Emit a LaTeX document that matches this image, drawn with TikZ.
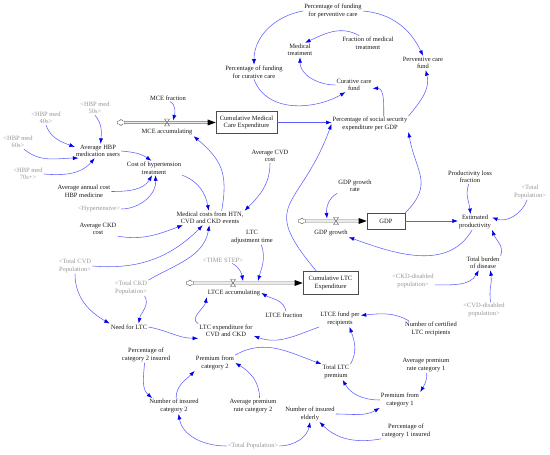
\documentclass[tikz,border=0pt]{standalone}
\usepackage{fontspec}
\setmainfont{Liberation Serif}
\usetikzlibrary{arrows.meta,shapes.symbols}
\definecolor{lnkc}{RGB}{95,95,255}
\definecolor{headc}{RGB}{0,0,235}
\definecolor{shc}{RGB}{150,150,150}
\definecolor{pipec}{RGB}{110,110,110}
\newcommand\valvemark[1]{\draw[draw=black!70, fill=white, line width=0.4pt] ([shift={(-2.5pt,-3.5pt)}]#1) -- ++(5pt,0pt) -- ++(-5pt,7pt) -- ++(5pt,0pt) -- cycle;}
\newcommand\flowtip[1]{\fill[black] (#1.west) -- ++(-8pt,3pt) -- ++(0pt,-6pt) -- cycle;}
\begin{document}
\begin{tikzpicture}[x=1pt,y=1pt,
 v/.style={font=\fontsize{6.5}{7.5}\selectfont, align=center, inner sep=1pt, text=black!90},
 sh/.style={v, text=shc},
 stockbox/.style={v, draw=black!70, line width=0.6pt, minimum width=61pt, minimum height=22pt},
 lnk/.style={draw=lnkc, line width=0.55pt, -{Latex[length=5.5pt,width=4pt,color=headc]}},
 pipe/.style={draw=pipec, line width=0.5pt, double=black!8, double distance=1.6pt, shorten >=7pt},
 cloudn/.style={cloud, cloud puffs=6, draw=black!70, fill=white, line width=0.4pt, minimum width=8pt, minimum height=6pt, inner sep=0pt}]
\useasboundingbox (0,0) rectangle (550,455);
% ---- top cluster
\node[v] (pfpc) at (333,444) {Percentage of funding\\for perventive care};
\node[v] (medtreat) at (300,405) {Medical\\treatment};
\node[v] (fracmed) at (368,412) {Fraction of medical\\treatment};
\node[v] (ppcare) at (423,392) {Perventive care\\fund};
\node[v] (pfcc) at (254,383) {Percentage of funding\\for curative care};
\node[v] (curfund) at (354,370) {Curative care\\fund};
% ---- MCE stock
\node[v] (mcefrac) at (168,357) {MCE fraction};
\node[cloudn] (mcecloud) at (121,332.5) {};
\node[stockbox] (mcebox) at (246.5,332.5) {Cumulative Medical\\Care Expenditure};
\coordinate (mcevalve) at (167,332.5);
\coordinate (mcein) at (173,334.5);
\node[v] (mceacc) at (167,323) {MCE accumulating};
\node[v] (pssgdp) at (370,331) {Percentage of social security\\expenditure per GDP};
% ---- HBP
\node[sh] (hbp50) at (95,347) {<HBP med\\50s>};
\node[sh] (hbp40) at (46,337) {<HBP med\\40s>};
\node[sh] (hbp60) at (18,313) {<HBP med\\60s>};
\node[sh] (hbp70) at (28,281) {<HBP med\\70s+>};
\node[v] (avghbp) at (98,304) {Average HBP\\medication users};
\node[v] (costhtn) at (154,287) {Cost of hypertension\\treatment};
\node[v] (avgannual) at (84,263.5) {Average annual cost\\HBP medicine};
\node[sh] (hyper) at (99,246) {<Hypertensive>};
\node[v] (medcosts) at (210,237) {Medical costs from HTN,\\CVD and CKD events};
\node[v] (avgcvd) at (270,299) {Average CVD\\cost};
\node[v] (avgckd) at (98,226) {Average CKD\\cost};
\node[sh] (totcvd) at (75,189) {<Total CVD\\Population>};
\node[sh] (totckd) at (131,167) {<Total CKD\\Population>};
\node[v] (needltc) at (129,128) {Need for LTC};
% ---- GDP
\node[v] (gdprate) at (355,269) {GDP growth\\rate};
\node[cloudn] (gdpcloud) at (302,234) {};
\node[stockbox, minimum width=38pt, minimum height=16pt] (gdpbox) at (386,234) {GDP};
\coordinate (gdpvalve) at (336,234);
\coordinate (gdpin) at (327,236.5);
\node[v] (gdpgrowth) at (331,222) {GDP growth};
\node[v] (prodloss) at (470,278) {Productivity loss\\fraction};
\node[sh] (totpopR) at (530,263) {<Total\\Population>};
\node[v] (estprod) at (475,233) {Estimated\\productivity};
\node[v] (burden) at (483,192) {Total burden\\of disease};
\node[sh] (ckddis) at (413,174) {<CKD-disabled\\population>};
\node[sh] (cvddis) at (484,145) {<CVD-disabled\\population>};
\node[v] (certltc) at (431,126) {Number of certified\\LTC recipients};
% ---- LTC stock
\node[v] (ltcadj) at (252,218) {LTC\\adjustment time};
\node[sh] (timestep) at (223,195) {<TIME STEP>};
\node[cloudn] (ltccloud) at (190,172) {};
\node[stockbox, minimum width=55pt, minimum height=23pt] (ltcbox) at (330.5,172) {Cumulative LTC\\Expenditure};
\coordinate (ltcvalve) at (233,172);
\coordinate (ltcin1) at (243,174);
\coordinate (ltcin2) at (258,174);
\node[v] (ltcacc) at (234,162) {LTCE accumulating};
\node[v] (ltcefrac) at (284,140) {LTCE fraction};
\node[v] (ltcefund) at (340,136) {LTCE fund per\\recipients};
\node[v] (ltcexp) at (226,124) {LTC expenditure for\\CVD and CKD};
% ---- premiums
\node[v] (pct2) at (146,100) {Percentage of\\category 2 insured};
\node[v] (prem2) at (215,92) {Premium from\\category 2};
\node[v] (totprem) at (336,83) {Total LTC\\premium};
\node[v] (nins2) at (174,49) {Number of insured\\category 2};
\node[v] (avgprem2) at (253,49) {Average premium\\rate category 2};
\node[v] (ninsel) at (310,41) {Number of insured\\elderly};
\node[sh] (totpopB) at (253,9) {<Total Population>};
\node[v] (avgprem1) at (426,90) {Average premium\\rate category 1};
\node[v] (prem1) at (400,55) {Premium from\\category 1};
\node[v] (pct1) at (406,24) {Percentage of\\category 1 insured};
% ---- pipes
\draw[pipe] (mcecloud.east) -- (mcebox.west);
\flowtip{mcebox}
\valvemark{mcevalve}
\draw[pipe] (gdpcloud.east) -- (gdpbox.west);
\flowtip{gdpbox}
\valvemark{gdpvalve}
\draw[pipe] (ltccloud.east) -- (ltcbox.west);
\flowtip{ltcbox}
\valvemark{ltcvalve}
% ---- links
\draw[lnk] (pfpc.west) to[out=190,in=90] (pfcc.north);
\draw[lnk] (pfpc.east) to[out=-5,in=115] (ppcare.north);
\draw[lnk] (fracmed.140) to[out=150,in=25] (medtreat.55);
\draw[lnk] (curfund.west) to[out=180,in=-90] (medtreat.south);
\draw[lnk] (pfcc.south) to[out=-70,in=-150] (curfund.-140);
\draw[lnk] (pssgdp.30) to[out=90,in=0] (curfund.-10);
\draw[lnk] (pssgdp.north east) to[out=50,in=-75] (ppcare.-70);
\draw[lnk] (mcefrac.-60) to[out=-30,in=75] (mcein);
\draw[lnk] (mcebox.east) -- (mcebox.east -| pssgdp.west);
\draw[lnk] (medcosts.32) to[out=80,in=-40,looseness=1.2] (mceacc.south east);
\draw[lnk] (avgcvd.south) to[out=-90,in=45] (medcosts.north east);
\draw[lnk] (costhtn.south east) to[out=-20,in=100] (medcosts.100);
\draw[lnk] (avghbp.east) to[out=-5,in=145] (costhtn.110);
\draw[lnk] (hbp50.south) to[out=-50,in=85] (avghbp.70);
\draw[lnk] (hbp40.south) to[out=-70,in=160] (avghbp.170);
\draw[lnk] (hbp60.-50) to[out=-40,in=180] (avghbp.-160);
\draw[lnk] (hbp70.east) to[out=-5,in=-130] (avghbp.-115);
\draw[lnk] (avgannual.east) to[out=0,in=-120] (costhtn.-105);
\draw[lnk] (hyper.east) to[out=0,in=-85] (costhtn.-80);
\draw[lnk] (avgckd.south east) to[out=-10,in=-160] (medcosts.-165);
\draw[lnk] (totcvd.east) to[out=-5,in=-135] (medcosts.-135);
\draw[lnk] (totckd.north east) to[out=30,in=-100] (medcosts.-95);
\draw[lnk] (totcvd.south) to[out=-90,in=150] (needltc.170);
\draw[lnk] (totckd.-30) to[out=-60,in=80] (needltc.20);
\draw[lnk] (needltc.east) to[out=-10,in=180] (ltcexp.south west);
\draw[lnk] (ltcexp.north west) to[out=150,in=-100] (ltcacc.south west);
\draw[lnk] (ltcadj.-40) to[out=-70,in=75] (ltcin2);
\draw[lnk] (timestep.-20) to[out=-30,in=100] (ltcin1);
\draw[lnk] (ltcefrac.60) to[out=100,in=-30] (ltcacc.east);
\draw[lnk] (ltcbox.140) to[out=130,in=-110,looseness=1.6] (pssgdp.west);
\draw[lnk] (gdprate.south west) to[out=-150,in=95] (gdpin);
\draw[lnk] (gdpbox.north east) to[out=45,in=-80,looseness=1.3] (pssgdp.south east);
\draw[lnk] (gdpbox.east) -- (gdpbox.east -| estprod.west);
\draw[lnk] (prodloss.-100) to[out=-110,in=95] (estprod.120);
\draw[lnk] (totpopR.-110) to[out=-110,in=-20] (estprod.15);
\draw[lnk] (estprod.-110) to[out=-120,in=-20] (gdpgrowth.south east);
\draw[lnk] (burden.north east) to[out=70,in=-70] (estprod.south east);
\draw[lnk] (ckddis.-10) to[out=0,in=-120] (burden.-120);
\draw[lnk] (cvddis.50) to[out=100,in=-80] (burden.-45);
\draw[lnk] (certltc.160) to[out=150,in=5] (ltcefund.10);
\draw[lnk] (ltcefund.south west) to[out=-160,in=-20] (ltcexp.-10);
\draw[lnk] (totprem.north east) to[out=60,in=-70] (ltcefund.-40);
\draw[lnk] (prem2.north east) to[out=30,in=160] (totprem.north west);
\draw[lnk] (avgprem2.50) to[out=90,in=-30] (prem2.east);
\draw[lnk] (nins2.75) to[out=90,in=-135] (prem2.south west);
\draw[lnk] (pct2.-100) to[out=-95,in=140] (nins2.160);
\draw[lnk] (totpopB.west) to[out=180,in=-80] (nins2.-60);
\draw[lnk] (totpopB.east) to[out=0,in=-100] (ninsel.south);
\draw[lnk] (ninsel.east) to[out=0,in=-150] (prem1.south west);
\draw[lnk] (prem1.west) to[out=180,in=-60] (totprem.-50);
\draw[lnk] (avgprem1.-85) to[out=-85,in=60] (prem1.north east);
\draw[lnk] (pct1.south west) to[out=-170,in=-45] (ninsel.-40);
\end{tikzpicture}
\end{document}
